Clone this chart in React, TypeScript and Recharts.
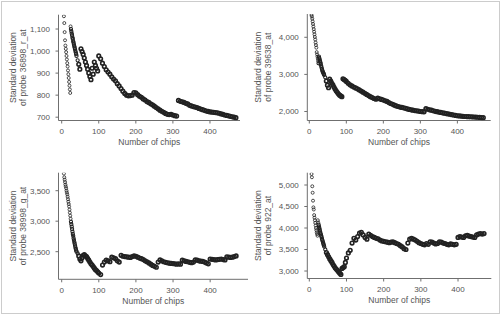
import { ScatterChart, Scatter, XAxis, YAxis } from 'recharts'

// number of chips used when computing each standard deviation
const CHIPS = [
  6, 7, 8, 9, 10, 11, 12, 13, 14, 15, 16, 17, 18, 19, 20, 21, 22, 23, 24, 25,
  26, 27, 28, 29, 30, 31, 32, 33, 34, 35, 36, 37, 38, 39, 40,
  43, 46, 49, 52, 55, 58, 61, 64, 67, 70, 73, 76, 79, 82, 85, 88, 91, 94, 97, 100,
  105, 110, 115, 120, 125, 130, 135, 140, 145, 150,
  155, 160, 165, 170, 175, 180, 185, 190, 195, 200,
  205, 210, 215, 220, 225, 230, 235, 240, 245, 250,
  255, 260, 265, 270, 275, 280, 285, 290, 295, 300,
  305, 310, 315, 320, 325, 330, 335, 340, 345, 350,
  355, 360, 365, 370, 375, 380, 385, 390, 395, 400,
  405, 410, 415, 420, 425, 430, 435, 440, 445, 450,
  455, 460, 465, 470,
]

const SD_36898_R = [
  1158, 1127, 1086, 1049, 1025, 1010, 995, 978, 962, 945,
  930, 912, 895, 878, 860, 843, 826, 810,
  1112, 1100, 1090, 1080, 1072, 1062, 1055, 1045, 1038, 1030, 1022, 1015, 1008, 1000, 993, 986, 978,
  958, 940, 918, 1010, 998, 985, 968, 950, 935, 918, 900, 885, 870, 922, 895, 950, 935, 922, 910, 978,
  965, 945, 930, 915, 905, 895, 883, 873, 865, 852,
  842, 830, 818, 808, 800, 797, 798, 800, 812, 810,
  802, 795, 790, 783, 778, 771, 767, 761, 756, 750,
  744, 738, 732, 727, 722, 717, 713, 712, 713, 710,
  707, 705, 776, 772, 770, 767, 763, 760, 754, 751,
  748, 746, 744, 740, 737, 734, 731, 728, 726, 724,
  723, 722, 721, 720, 718, 715, 713, 710, 708, 706,
  704, 702, 700, 698,
]

const SD_39638 = [
  4600, 4560, 4500, 4430, 4360, 4290, 4220, 4150, 4080, 4010,
  3940, 3860, 3790, 3720, 3600, 3540, 3480, 3420, 3360, 3300,
  3480, 3440, 3400, 3360, 3320, 3280, 3230, 3190, 3150, 3110,
  3080, 3055, 3035, 3010, 2985,
  2920, 2820, 2710, 2640, 2870, 2820, 2760, 2710, 2650, 2600, 2550, 2510, 2470, 2440, 2420, 2400, 2880, 2860, 2840, 2810,
  2760, 2720, 2690, 2660, 2635, 2610, 2580, 2550, 2520, 2490,
  2460, 2430, 2400, 2375, 2350, 2330, 2360, 2340, 2325, 2310,
  2290, 2270, 2240, 2215, 2195, 2170, 2150, 2135, 2120, 2110,
  2100, 2085, 2070, 2055, 2045, 2035, 2025, 2018, 2010, 2000,
  1995, 1990, 2075, 2060, 2045, 2035, 2020, 2005, 1995, 1985,
  1975, 1965, 1955, 1945, 1935, 1925, 1915, 1905, 1895, 1885,
  1880, 1875, 1870, 1865, 1862, 1860, 1858, 1855, 1852, 1848,
  1845, 1840, 1836, 1832,
]

const SD_38998_G = [
  3780, 3720, 3680, 3640, 3600, 3570, 3540, 3500, 3470, 3440,
  3400, 3360, 3320, 3280, 3240, 3190, 3140, 3090, 3040, 2990,
  2950, 2910, 2870, 2830, 2790, 2760, 2720, 2690, 2660, 2630,
  2600, 2570, 2545, 2520, 2500,
  2470, 2430, 2380, 2350, 2400, 2440, 2450, 2430, 2420, 2390, 2360, 2330, 2300, 2280, 2255, 2230, 2205, 2190, 2170, 2150,
  2125, 2280, 2330, 2360, 2350, 2335, 2410, 2400, 2385, 2350,
  2330, 2440, 2425, 2420, 2415, 2410, 2405, 2420, 2430, 2425,
  2410, 2395, 2385, 2370, 2350, 2335, 2315, 2295, 2275, 2260,
  2245, 2330, 2365, 2350, 2335, 2325, 2318, 2312, 2308, 2305,
  2300, 2295, 2300, 2295, 2360, 2350, 2340, 2335, 2325, 2320,
  2330, 2365, 2360, 2350, 2345, 2340, 2330, 2315, 2300, 2380,
  2375, 2370, 2365, 2370, 2375, 2380, 2370, 2365, 2415, 2410,
  2405, 2410, 2420, 2430,
]

const SD_922 = [
  5256, 5180, 4970, 4820, 4635, 4480, 4430, 4300, 4240, 4180,
  4120, 4060, 4000, 3950, 3900, 3860, 3820, 4180, 4130, 4080,
  4040, 4000, 3960, 3920, 3880, 3850, 3820, 3790, 3750, 3720,
  3690, 3660, 3630, 3600, 3570,
  3500, 3430, 3380, 3330, 3280, 3240, 3200, 3150, 3110, 3070, 3040, 3010, 2980, 2950, 2920, 3060, 3080, 3100, 3200, 3300,
  3420, 3480, 3650, 3760, 3720, 3800, 3880, 3900, 3840, 3780,
  3740, 3860, 3830, 3800, 3780, 3760, 3750, 3720, 3700, 3690,
  3680, 3670, 3660, 3670, 3680, 3660, 3640, 3620, 3590, 3560,
  3520, 3500, 3650, 3740, 3760, 3740, 3720, 3690, 3660, 3640,
  3620, 3610, 3640, 3620, 3680, 3670, 3650, 3630, 3640, 3680,
  3670, 3650, 3640, 3620, 3610, 3630, 3620, 3610, 3620, 3780,
  3800, 3790, 3780, 3820, 3830, 3810, 3800, 3790, 3780, 3840,
  3860, 3870, 3860, 3870,
]

const X_TICKS = [0, 100, 200, 300, 400]
const TICKS_36898 = [700, 800, 900, 1000, 1100]
const TICKS_39638 = [2000, 3000, 4000]
const TICKS_38998 = [2500, 3000, 3500]
const TICKS_922 = [3000, 3500, 4000, 4500, 5000]

const FONT = '"Liberation Sans", Arial, Helvetica, sans-serif'
const INK = '#555'
const AXIS = '#6f6f6f'
const W = 250
const H = 160
const Y_AXIS_W = 40
const X_AXIS_H = 30

type Panel = {
  probe: string
  values: number[]
  yTicks: number[]
  left: number
  top: number
  // plot box inside the panel
  plot: { l: number; r: number; t: number; b: number }
  xDomain: [number, number]
  yDomain: [number, number]
  titleX: number
}

const PANELS: Panel[] = [
  {
    probe: '36898_r_at', values: SD_36898_R, yTicks: TICKS_36898, left: 0, top: 0,
    plot: { l: 58.5, r: 240, t: 14.7, b: 120.5 }, xDomain: [-8.6, 481], yDomain: [685, 1165], titleX: 13,
  },
  {
    probe: '39638_at', values: SD_39638, yTicks: TICKS_39638, left: 250, top: 0,
    plot: { l: 57.3, r: 240.7, t: 14, b: 120.5 }, xDomain: [-5.4, 490], yDomain: [1757, 4628], titleX: 8.3,
  },
  {
    probe: '38998_g_at', values: SD_38998_G, yTicks: TICKS_38998, left: 0, top: 160,
    plot: { l: 58.5, r: 248, t: 12.7, b: 119.3 }, xDomain: [-8.6, 502], yDomain: [2047, 3795], titleX: 13,
  },
  {
    probe: '922_at', values: SD_922, yTicks: TICKS_922, left: 250, top: 160,
    plot: { l: 57.3, r: 241.3, t: 12.7, b: 118.5 }, xDomain: [-5.4, 489.5], yDomain: [2826, 5286], titleX: 8.3,
  },
]

const fmt = (v: number) => v.toLocaleString('en-US')

// hollow marker; the sparse early points stay thin, later runs are heavier so
// they merge into a dark band
function Ring(props: any) {
  const { cx, cy, payload } = props
  if (cx == null || cy == null) return null
  const n = payload?.n ?? 100
  const r = n < 25 ? 1.5 : n <= 45 ? 1.6 : 1.8
  const sw = n < 25 ? 0.8 : n <= 45 ? 1.1 : 1.6
  return <circle cx={cx} cy={cy} r={r} fill="none" stroke="#222" strokeWidth={sw} />
}

function SdPanel({ p }: { p: Panel }) {
  const data = CHIPS.map((n, i) => ({ n, sd: p.values[i] }))
  const lines = ['Standard deviation', `of probe ${p.probe}`]

  const yTitle = ({ viewBox }: any) => {
    const cy = viewBox.y + viewBox.height / 2
    return (
      <g>
        {lines.map((t, i) => {
          const x = p.titleX + i * 10 + 3
          return (
            <text key={t} x={x} y={cy} transform={`rotate(-90 ${x} ${cy})`} textAnchor="middle"
              fontSize={8.5} fontFamily={FONT} fill={INK}>
              {t}
            </text>
          )
        })}
      </g>
    )
  }

  const xTitle = ({ viewBox }: any) => (
    <text x={viewBox.x + viewBox.width / 2} y={viewBox.y + 24.3} textAnchor="middle"
      fontSize={8.5} fontFamily={FONT} fill={INK}>
      Number of chips
    </text>
  )

  return (
    <div style={{ position: 'absolute', left: p.left, top: p.top, width: W, height: H }}>
      <ScatterChart
        width={W}
        height={H}
        margin={{
          left: p.plot.l - Y_AXIS_W,
          right: W - p.plot.r,
          top: p.plot.t,
          bottom: H - p.plot.b - X_AXIS_H,
        }}
      >
        <XAxis type="number" dataKey="n" domain={p.xDomain} ticks={X_TICKS} allowDataOverflow
          height={X_AXIS_H} tickSize={3} tickMargin={5} stroke={AXIS}
          tick={{ fill: INK, fontSize: 8, fontFamily: FONT }} label={{ content: xTitle }} />
        <YAxis type="number" dataKey="sd" domain={p.yDomain} ticks={p.yTicks} allowDataOverflow
          width={Y_AXIS_W} tickSize={3} tickMargin={5.5} stroke={AXIS} tickFormatter={fmt}
          tick={{ fill: INK, fontSize: 8, fontFamily: FONT }} label={{ content: yTitle }} />
        <Scatter data={data} shape={Ring} isAnimationActive={false} />
      </ScatterChart>
    </div>
  )
}

export default function App() {
  return (
    <div style={{ position: 'absolute', left: 0, top: 0, width: 503, height: 319, background: '#fff' }}>
      <div style={{ position: 'absolute', left: 1, top: 1, width: 499, height: 313, border: '1px solid #ccc', boxSizing: 'border-box' }} />
      {PANELS.map((p) => (
        <SdPanel key={p.probe} p={p} />
      ))}
    </div>
  )
}
